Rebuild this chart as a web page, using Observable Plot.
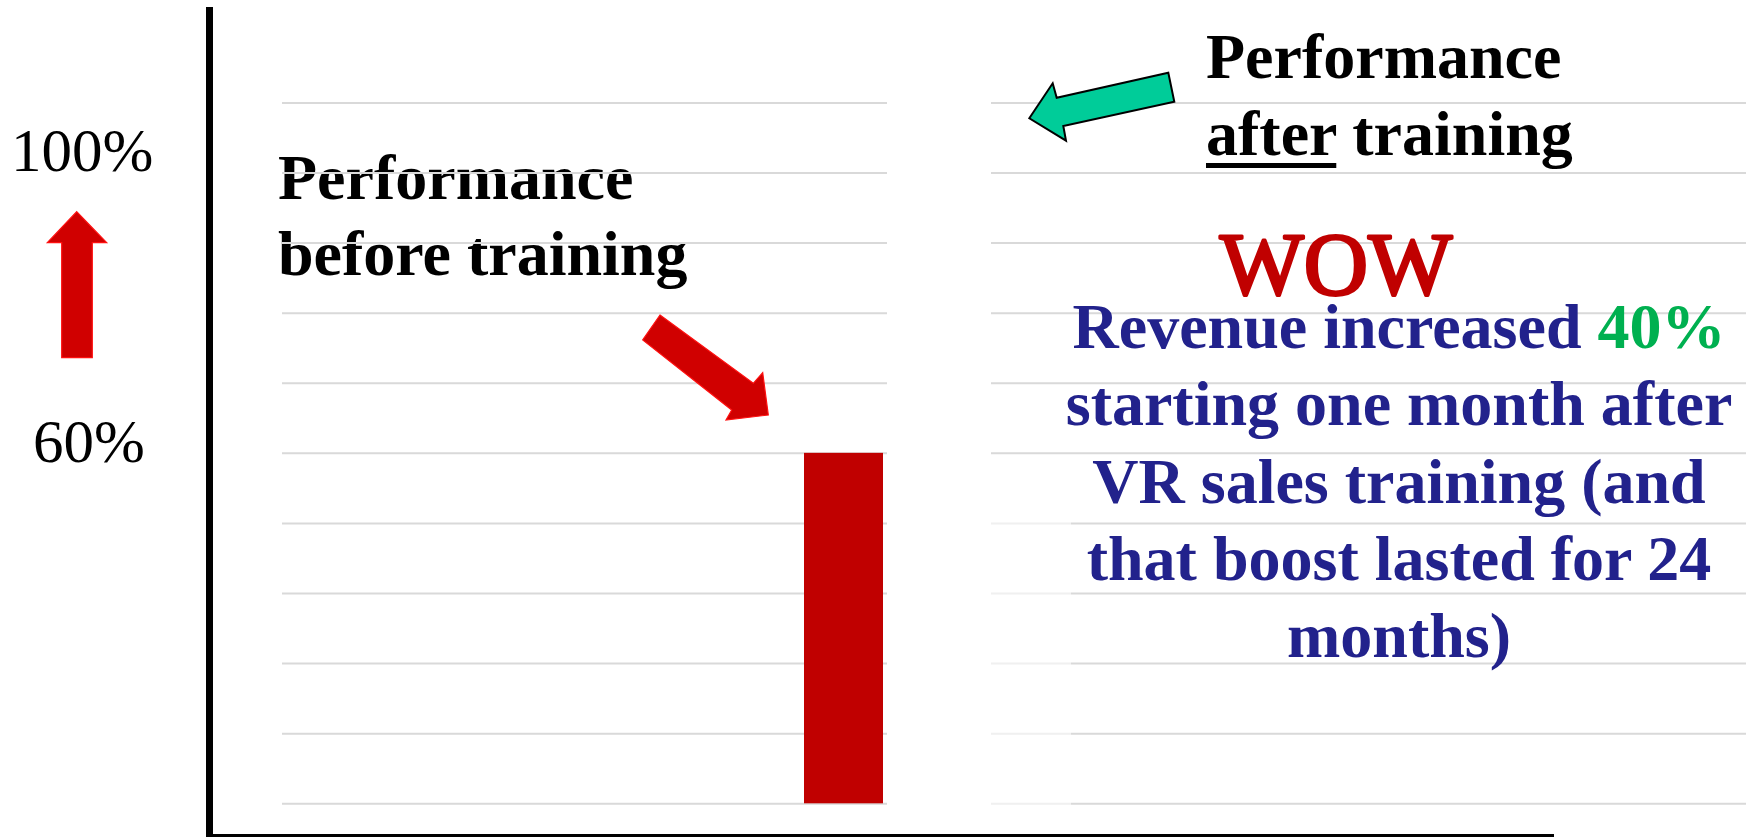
<!DOCTYPE html>
<html><head><meta charset="utf-8">
<script src="https://cdn.jsdelivr.net/npm/d3@7"></script>
<script src="https://cdn.jsdelivr.net/npm/@observablehq/plot@0.6"></script>
<style>html,body{margin:0;padding:0;background:#fff;overflow:hidden}</style>
</head><body><div id="chart"></div>
<script>
// ---- data ----
const categories = ["Before training", "After training"];
const performance = [60, null];            // the "after" column is off the chart
const gridTicks = [0, 12, 24, 36, 48, 60, 72, 84, 96, 108, 120];
const yTickLabels = ["100%", "60%"];
const beforeLabel = ["Performance", "before training"];
const afterLabel = ["Performance", "after", " training"];
const wowLabel = "WOW";
const revenueLines = [
  ["Revenue increased ", "40%"],
  ["starting one month after"],
  ["VR sales training (and"],
  ["that boost lasted for 24"],
  ["months)"]
];

const data = categories.map((c, i) => ({category: c, value: performance[i]}))
                       .filter(d => d.value != null);

const W = 1746, H = 837;
const SERIF = "'Liberation Serif', 'Times New Roman', Times, serif";

const plot = Plot.plot({
  width: W, height: H,
  marginLeft: 282, marginRight: 0, marginTop: 0, marginBottom: 0,
  x: {type: "band", domain: categories, range: [787.5, 995], padding: 0.1728, axis: null},
  y: {domain: [0, 120], range: [803.3, 102.4], axis: null},
  style: {background: "#fff", overflow: "visible"},
  marks: [
    Plot.ruleY(gridTicks, {stroke: "#d9d9d9", strokeWidth: 2}),
    Plot.barY(data, {x: "category", y: "value", fill: "#c00000"})
  ]
});
document.getElementById("chart").appendChild(plot);

const svg = d3.select(plot);

// text that sits beneath the gridlines
const under = svg.insert("g", "g");
under.append("text")
  .attr("text-anchor", "start")
  .attr("font-family", SERIF).attr("font-weight", "bold").attr("font-size", 64)
  .attr("fill", "#000")
  .selectAll("tspan").data(beforeLabel).join("tspan")
  .attr("x", 278).attr("y", (d, i) => 199 + i * 76).text(d => d);

// blanked-out areas of the grid
svg.append("rect").attr("x", 887).attr("y", 90).attr("width", 104).attr("height", 725).attr("fill", "#fff");
svg.append("rect").attr("x", 991).attr("y", 462).attr("width", 80).attr("height", 350).attr("fill", "#fff").attr("fill-opacity", 0.6);

// axis lines
svg.append("rect").attr("x", 206).attr("y", 7).attr("width", 7).attr("height", 830).attr("fill", "#000");
svg.append("rect").attr("x", 206).attr("y", 834).attr("width", 1348).attr("height", 3).attr("fill", "#000");

// y tick labels
svg.append("text").attr("text-anchor", "start").attr("x", 11).attr("y", 171).attr("font-family", SERIF).attr("font-size", 61)
  .attr("fill", "#000").text(yTickLabels[0]);
svg.append("text").attr("text-anchor", "start").attr("x", 33).attr("y", 462).attr("font-family", SERIF).attr("font-size", 61)
  .attr("fill", "#000").text(yTickLabels[1]);

// block arrows
const line = d3.line();
const upArrow = [[76.7,211.7],[106.7,242.7],[92.3,242.7],[92.3,357.7],[61.7,357.7],[61.7,242.7],[47.3,242.7]];
const diagArrow = [[660,315],[753.3,383.3],[762.7,372.7],[768.3,415],[726,420],[731.7,410],[642.7,340]];
const greenArrow = [[1029.3,118.3],[1052.7,83.3],[1056.7,97.7],[1168.3,72.7],[1174.3,101.7],[1063.3,126],[1066,140.7]];
svg.append("path").attr("d", line(upArrow) + "Z").attr("fill", "#d00000").attr("stroke", "#ff1010").attr("stroke-width", 1.2).attr("stroke-linejoin", "miter");
svg.append("path").attr("d", line(diagArrow) + "Z").attr("fill", "#d00000").attr("stroke", "#ff1010").attr("stroke-width", 1.2).attr("stroke-linejoin", "miter");
svg.append("path").attr("d", line(greenArrow) + "Z").attr("fill", "#00cc99").attr("stroke", "#000").attr("stroke-width", 2).attr("stroke-linejoin", "miter");

// "Performance after training"
const aft = svg.append("g").attr("text-anchor", "start").attr("font-family", SERIF).attr("font-weight", "bold").attr("font-size", 64).attr("fill", "#000");
aft.append("text").attr("x", 1206).attr("y", 78).text(afterLabel[0]);
const t2 = aft.append("text").attr("x", 1206).attr("y", 155);
t2.append("tspan").text(afterLabel[1]);
t2.append("tspan").text(afterLabel[2]);
let ulen = 130;
try { ulen = t2.node().getSubStringLength(0, afterLabel[1].length); } catch (e) {}
aft.append("rect").attr("x", 1206).attr("y", 163).attr("width", ulen).attr("height", 5).attr("fill", "#000");

// WOW
svg.append("text").attr("x", 1336).attr("y", 294).attr("text-anchor", "middle")
  .attr("font-family", SERIF).attr("font-size", 89).attr("fill", "#c00000")
  .attr("stroke", "#c00000").attr("stroke-width", 3).attr("stroke-linejoin", "round").text(wowLabel);

// revenue statement
const rev = svg.append("g").attr("font-family", SERIF).attr("font-weight", "bold").attr("font-size", 64)
  .attr("text-anchor", "middle").attr("fill", "#22228c");
revenueLines.forEach((parts, i) => {
  const t = rev.append("text").attr("x", 1399).attr("y", 348 + i * 77.25);
  t.append("tspan").text(parts[0]);
  if (parts[1]) t.append("tspan").attr("fill", "#00b050").text(parts[1]);
});
</script>
</body></html>
